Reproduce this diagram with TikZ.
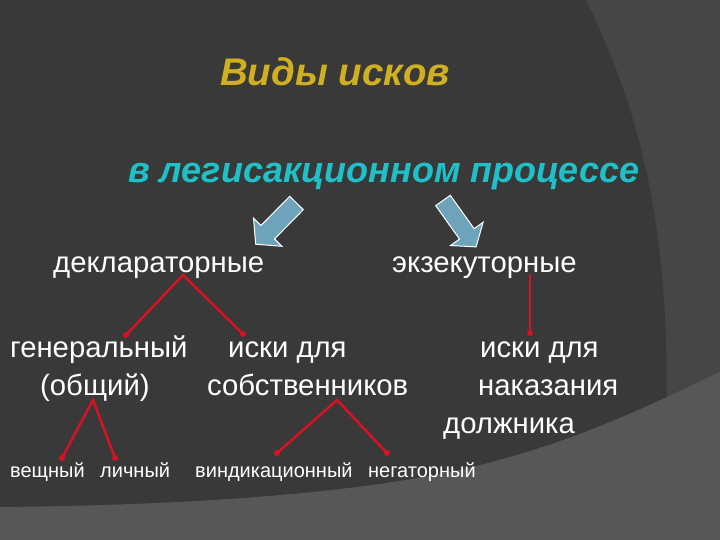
\documentclass[tikz,border=0pt]{standalone}
\usepackage{fontspec}
\setmainfont{Liberation Sans}
\definecolor{bgmain}{RGB}{57,57,57}
\definecolor{bgright}{RGB}{70,70,70}
\definecolor{bglow}{RGB}{87,87,87}
\definecolor{titlecol}{RGB}{208,176,32}
\definecolor{subcol}{RGB}{32,192,200}
\definecolor{arrowfill}{RGB}{110,163,188}
\definecolor{linkred}{RGB}{215,18,35}
\begin{document}
\begin{tikzpicture}[x=1pt,y=-1pt,
  lbl/.style={text=white,inner sep=0pt,anchor=base west,font=\fontsize{29.3}{34}\selectfont},
  small/.style={text=white,inner sep=0pt,anchor=base west,font=\fontsize{20}{24}\selectfont},
  link/.style={draw=linkred,line width=2.5pt},
  enddot/.style={fill=linkred},
  blockarrow/.style={fill=arrowfill,draw=white,line width=1pt,line join=miter}]
% background
\useasboundingbox (0,0) rectangle (720,540);
\fill[bgmain] (0,0) rectangle (720,540);
\fill[bgright] (586,0) .. controls (640,110) and (672,230) .. (666,430) -- (720,430) -- (720,0) -- cycle;
\fill[bglow] (0,507) .. controls (220,505) and (380,490) .. (480,465) .. controls (580,440) and (650,405) .. (720,372) -- (720,540) -- (0,540) -- cycle;
% titles
\node[text=titlecol,inner sep=0pt,anchor=base west,font=\fontsize{38.5}{42}\selectfont\bfseries\itshape] (title) at (220,86) {Виды исков};
\node[text=subcol,inner sep=0pt,anchor=base west,font=\fontsize{36}{40}\selectfont\bfseries\itshape] (sub) at (128,183) {в легисакционном процессе};
% block arrows
\path[blockarrow] (303.3,209.7) -- (274.5,238.9) -- (281.9,246.3) -- (255.7,244.2) -- (253.5,218.1) -- (260.9,225.5) -- (289.7,196.3) -- cycle;
\path[blockarrow] (450.3,195.3) -- (474.1,228.7) -- (483.1,222.3) -- (476.1,246.9) -- (450.5,245.5) -- (459.5,239.1) -- (435.7,205.7) -- cycle;
% level 1
\node[lbl] (dekl) at (53,272) {деклараторные};
\node[lbl] (ekz) at (392,272) {экзекуторные};
% level 2
\node[lbl] (gen1) at (10,357) {генеральный};
\node[lbl] (gen2) at (40,395) {(общий)};
\node[lbl] (sob1) at (228,357) {иски для};
\node[lbl] (sob2) at (207,395) {собственников};
\node[lbl] (nak1) at (480,357) {иски для};
\node[lbl] (nak2) at (478,395) {наказания};
\node[lbl] (nak3) at (443,433) {должника};
% level 3
\node[small] (vesh) at (10,477) {вещный};
\node[small] (lich) at (100,477) {личный};
\node[small] (vind) at (195,477) {виндикационный};
\node[small] (neg) at (368,477) {негаторный};
% link points
\coordinate (dA) at (183,275);
\coordinate (dL) at (126,335);
\coordinate (dR) at (243,334);
\coordinate (gA) at (93,400);
\coordinate (gL) at (62,458);
\coordinate (gR) at (115,458);
\coordinate (sA) at (337,400);
\coordinate (sL) at (277,453);
\coordinate (sR) at (387,453);
\coordinate (eA) at (530,274);
\coordinate (eB) at (530,333);
\draw[link] (dL) -- (dA) -- (dR);
\draw[link] (gL) -- (gA) -- (gR);
\draw[link] (sL) -- (sA) -- (sR);
\draw[link] (eA) -- (eB);
\foreach \p in {dL,dR,gL,gR,sL,sR,eB} \fill[enddot] (\p) circle (3);
\end{tikzpicture}
\end{document}
